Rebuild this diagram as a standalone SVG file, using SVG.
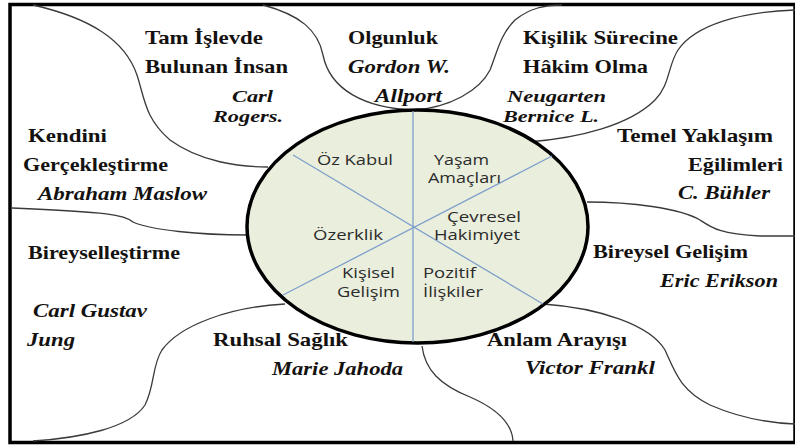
<svg xmlns="http://www.w3.org/2000/svg" width="795" height="448" viewBox="0 0 795 448">
<style>
.b{font-family:"Liberation Serif","Times New Roman",serif;font-weight:bold;font-size:19px;fill:#141210}
.i{font-family:"Liberation Serif","Times New Roman",serif;font-weight:bold;font-style:italic;font-size:18px;fill:#141210}
.s{font-size:17px}
.c{font-family:"Open Sans","DejaVu Sans",sans-serif;font-size:14px;fill:#2b2b2b}
.curve{fill:none;stroke:#3a3a3a;stroke-width:1.3}
.seg{stroke:#7d9fca;stroke-width:1.3;fill:none}
</style>
<rect x="0" y="0" width="795" height="448" fill="#ffffff"/>
<rect x="10" y="4.5" width="785" height="438" fill="none" stroke="#000" stroke-width="3.5"/>
<g id="connectors">
<path class="curve" d="M33,5 C90,18 125,40 137,75 C145,100 145,118 170,140 C200,162 240,167 268,167"/>
<path class="curve" d="M263,5 C300,15 318,30 323,55 C330,90 365,108 413,110 C450,108 480,90 490,70 C498,50 500,35 515,20 C530,8 545,5 562,5"/>
<path class="curve" d="M528,142 C580,138 630,125 655,100 C670,85 668,65 678,50 C695,25 740,12 795,10"/>
<path class="curve" d="M587,202 C630,202 680,208 700,220 C712,228 720,234 760,236 L795,236"/>
<path class="curve" d="M543,304 C600,308 650,325 665,350 C675,372 680,390 710,405 C740,418 770,423 795,424"/>
<path class="curve" d="M422,346 C425,370 440,385 470,397 C500,410 512,425 513,441"/>
<path class="curve" d="M285,304 C230,307 180,325 162,350 C152,365 155,385 145,405 C130,428 80,438 33,441"/>
<path class="curve" d="M247,235 C200,235 150,230 133,222 C125,215 110,212 12,208"/>
</g>
<g id="circle">
<ellipse cx="417.5" cy="226.5" rx="170.5" ry="116.5" fill="#eaeedd" stroke="#000" stroke-width="3.5"/>
<line class="seg" x1="413" y1="111" x2="413" y2="342"/>
<line class="seg" x1="293" y1="155" x2="543" y2="304"/>
<line class="seg" x1="283" y1="295" x2="552" y2="156"/>
<text class="c" x="317" y="165" textLength="76" lengthAdjust="spacingAndGlyphs">Öz Kabul</text>
<text class="c" x="434" y="165" textLength="55" lengthAdjust="spacingAndGlyphs">Yaşam</text>
<text class="c" x="428" y="183" textLength="73" lengthAdjust="spacingAndGlyphs">Amaçları</text>
<text class="c" x="447" y="222" textLength="74" lengthAdjust="spacingAndGlyphs">Çevresel</text>
<text class="c" x="434" y="240" textLength="86" lengthAdjust="spacingAndGlyphs">Hakimiyet</text>
<text class="c" x="313" y="240" textLength="70" lengthAdjust="spacingAndGlyphs">Özerklik</text>
<text class="c" x="342" y="278" textLength="53" lengthAdjust="spacingAndGlyphs">Kişisel</text>
<text class="c" x="337" y="297" textLength="63" lengthAdjust="spacingAndGlyphs">Gelişim</text>
<text class="c" x="423" y="278" textLength="53" lengthAdjust="spacingAndGlyphs">Pozitif</text>
<text class="c" x="423" y="297" textLength="60" lengthAdjust="spacingAndGlyphs">İlişkiler</text>
</g>
<g id="rogers">
<text class="b" x="145" y="44" textLength="118" lengthAdjust="spacingAndGlyphs">Tam İşlevde</text>
<text class="b" x="145" y="73" textLength="143" lengthAdjust="spacingAndGlyphs">Bulunan İnsan</text>
<text class="i s" x="232" y="102" textLength="41" lengthAdjust="spacingAndGlyphs">Carl</text>
<text class="i s" x="213" y="122" textLength="70" lengthAdjust="spacingAndGlyphs">Rogers.</text>
</g>
<g id="allport">
<text class="b" x="348" y="44" textLength="90" lengthAdjust="spacingAndGlyphs">Olgunluk</text>
<text class="i" x="348" y="73" textLength="102" lengthAdjust="spacingAndGlyphs">Gordon W.</text>
<text class="i" x="375" y="102" textLength="67" lengthAdjust="spacingAndGlyphs">Allport</text>
</g>
<g id="neugarten">
<text class="b" x="523" y="44" textLength="155" lengthAdjust="spacingAndGlyphs">Kişilik Sürecine</text>
<text class="b" x="523" y="73" textLength="125" lengthAdjust="spacingAndGlyphs">Hâkim Olma</text>
<text class="i s" x="507" y="102" textLength="99" lengthAdjust="spacingAndGlyphs">Neugarten</text>
<text class="i s" x="503" y="122" textLength="96" lengthAdjust="spacingAndGlyphs">Bernice L.</text>
</g>
<g id="buhler">
<text class="b" x="617" y="142" textLength="156" lengthAdjust="spacingAndGlyphs">Temel Yaklaşım</text>
<text class="b" x="688" y="171" textLength="95" lengthAdjust="spacingAndGlyphs">Eğilimleri</text>
<text class="i" x="678" y="199" textLength="92" lengthAdjust="spacingAndGlyphs">C. Bühler</text>
</g>
<g id="erikson">
<text class="b" x="593" y="258" textLength="155" lengthAdjust="spacingAndGlyphs">Bireysel Gelişim</text>
<text class="i" x="660" y="287" textLength="118" lengthAdjust="spacingAndGlyphs">Eric Erikson</text>
</g>
<g id="frankl">
<text class="b" x="487" y="346" textLength="140" lengthAdjust="spacingAndGlyphs">Anlam Arayışı</text>
<text class="i" x="525" y="374" textLength="130" lengthAdjust="spacingAndGlyphs">Victor Frankl</text>
</g>
<g id="jahoda">
<text class="b" x="213" y="346" textLength="135" lengthAdjust="spacingAndGlyphs">Ruhsal Sağlık</text>
<text class="i" x="272" y="375" textLength="131" lengthAdjust="spacingAndGlyphs">Marie Jahoda</text>
</g>
<g id="jung">
<text class="b" x="28" y="259" textLength="152" lengthAdjust="spacingAndGlyphs">Bireyselleştirme</text>
<text class="i" x="33" y="317" textLength="114" lengthAdjust="spacingAndGlyphs">Carl Gustav</text>
<text class="i" x="27" y="346" textLength="48" lengthAdjust="spacingAndGlyphs">Jung</text>
</g>
<g id="maslow">
<text class="b" x="28" y="142" textLength="79" lengthAdjust="spacingAndGlyphs">Kendini</text>
<text class="b" x="23" y="171" textLength="145" lengthAdjust="spacingAndGlyphs">Gerçekleştirme</text>
<text class="i" x="38" y="200" textLength="169" lengthAdjust="spacingAndGlyphs">Abraham Maslow</text>
</g>
</svg>
